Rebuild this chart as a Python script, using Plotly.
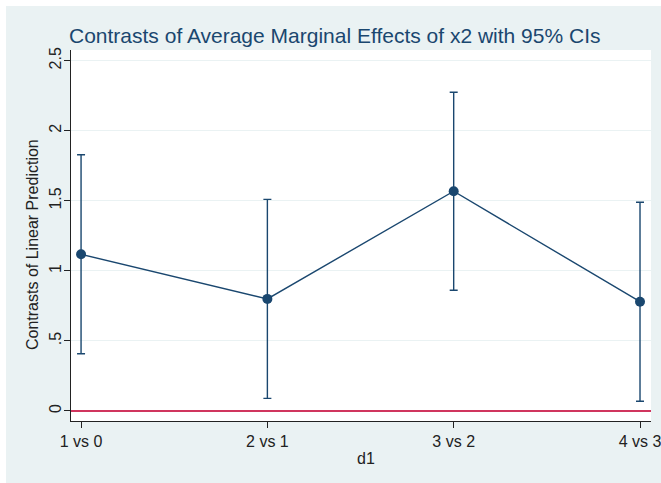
import plotly.graph_objects as go

categories = ["1 vs 0", "2 vs 1", "3 vs 2", "4 vs 3"]
x_pos = [1, 2, 3, 4]
estimates = [1.118, 0.800, 1.568, 0.780]
ci_upper = [1.828, 1.510, 2.275, 1.490]
ci_lower = [0.408, 0.090, 0.862, 0.070]
y_ticks = [0, 0.5, 1, 1.5, 2, 2.5]
y_tick_labels = ["0", ".5", "1", "1.5", "2", "2.5"]

NAVY = "#1A476F"
BG = "#EAF2F3"
FONT = "Liberation Sans, Arial, sans-serif"
TXT = "#222222"

err_plus = [u - e for u, e in zip(ci_upper, estimates)]
err_minus = [e - l for e, l in zip(estimates, ci_lower)]

fig = go.Figure()
fig.add_trace(go.Scatter(
    x=x_pos, y=estimates, mode="lines+markers",
    line=dict(color=NAVY, width=1.4),
    marker=dict(color=NAVY, size=10),
    error_y=dict(type="data", symmetric=False, array=err_plus, arrayminus=err_minus,
                 color=NAVY, thickness=1.4, width=4),
    showlegend=False,
))

L, R, T, B = 71, 10, 50, 62
W, H = 661, 483
pw, ph = W - L - R, H - T - B

def px_x(px):
    return (px - L) / pw

def px_y(py):
    return (H - B - py) / ph

# white strips on top and left (outer frame inset)
fig.add_shape(type="rect", xref="paper", yref="paper", x0=px_x(0), x1=px_x(W + 5),
              y0=px_y(6), y1=px_y(-5), fillcolor="white", line=dict(width=0), layer="below")
fig.add_shape(type="rect", xref="paper", yref="paper", x0=px_x(-5), x1=px_x(6),
              y0=px_y(H + 5), y1=px_y(-5), fillcolor="white", line=dict(width=0), layer="below")

# zero reference line
fig.add_shape(type="line", xref="paper", yref="y", x0=0, x1=1, y0=0, y1=0,
              line=dict(color="#D0355E", width=2), layer="above")

# axis titles
fig.add_annotation(text="Contrasts of Linear Prediction", xref="paper", yref="paper",
                   x=px_x(33), y=px_y(245), textangle=-90, showarrow=False,
                   xanchor="center", yanchor="middle", font=dict(size=16, color=TXT))
fig.add_annotation(text="d1", xref="paper", yref="paper",
                   x=px_x(366), y=px_y(458), showarrow=False,
                   xanchor="center", yanchor="middle", font=dict(size=16, color=TXT))

fig.update_layout(
    width=W, height=H,
    margin=dict(l=L, r=R, t=T, b=B),
    paper_bgcolor=BG, plot_bgcolor="white",
    font=dict(family=FONT, color=TXT, size=16),
    title=dict(text="Contrasts of Average Marginal Effects of x2 with 95% CIs",
               x=69 / W, xanchor="left", y=1 - 36 / H, yanchor="middle",
               font=dict(family=FONT, size=21, color=NAVY)),
    xaxis=dict(range=[0.946, 4.059], tickvals=x_pos, ticktext=categories, automargin=False,
               ticklabeloverflow="allow",
               showgrid=False, zeroline=False, showline=True, linecolor=TXT, linewidth=1.3,
               ticks="outside", ticklen=6, tickcolor=TXT, tickwidth=1.3,
               tickfont=dict(size=16, color=TXT)),
    yaxis=dict(range=[-0.0714, 2.576], tickvals=y_ticks, ticktext=y_tick_labels, tickangle=-90,
               automargin=False, ticklabelstandoff=-4,
               showgrid=True, gridcolor=BG, gridwidth=1, zeroline=False,
               showline=True, linecolor=TXT, linewidth=1.3,
               ticks="outside", ticklen=6, tickcolor=TXT, tickwidth=1.3,
               tickfont=dict(size=16, color=TXT)),
)

fig.write_html("out.html")
